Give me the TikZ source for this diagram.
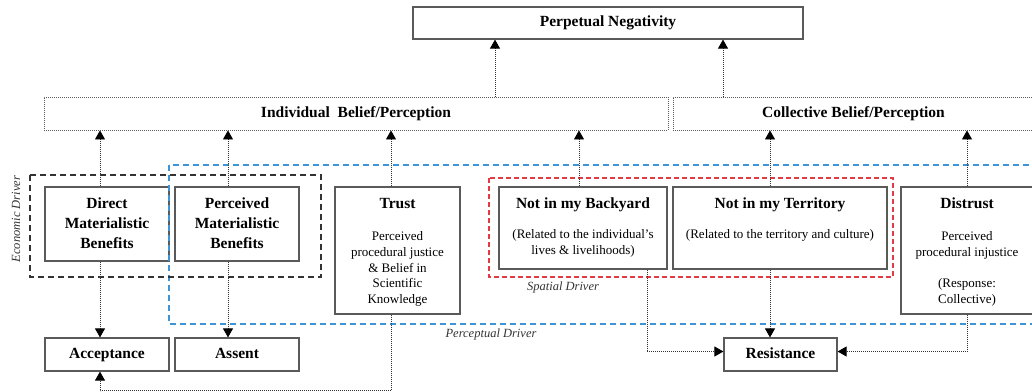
\documentclass[tikz,border=0pt]{standalone}
\usepackage{fontspec}
\setmainfont{Liberation Serif}
\usetikzlibrary{arrows.meta}
\definecolor{bord}{HTML}{5A5A5A}
\definecolor{dblue}{HTML}{3D95D6}
\definecolor{dred}{HTML}{E23B45}
\definecolor{dgray}{HTML}{333333}
\newcommand\TitleFont{\fontsize{15.5}{20}\selectfont\bfseries}
\newcommand\BodyFont{\fontsize{13}{15.7}\selectfont}
\begin{document}
\begin{tikzpicture}[x=1pt,y=-1pt,
 box/.style={draw=bord, line width=1.2pt, inner sep=0pt, font=\TitleFont, text height=10.5pt, text depth=3.5pt},
 dbox/.style={draw=bord, line width=0.9pt, dash pattern=on 1pt off 1pt, inner sep=0pt, font=\TitleFont, text height=10.5pt, text depth=3.5pt},
 ttl/.style={font=\TitleFont, align=center, inner sep=0pt, anchor=base},
 body/.style={font=\BodyFont, align=center, inner sep=0pt, anchor=base},
 conn/.style={draw=dgray, line width=0.8pt, dash pattern=on 1pt off 1pt, -{Triangle[width=10pt,length=9pt,color=black,fill=black]}},
 drv/.style={font=\fontsize{12.5}{15}\selectfont\itshape, text=dgray, inner sep=0pt},
 region/.style={line width=1.3pt, dash pattern=on 6pt off 4pt},
]
\useasboundingbox (0,0) rectangle (1032,391);

% top level
\node[box, minimum width=390pt, minimum height=32pt] (pn) at (608,23) {Perpetual Negativity};
\node[dbox, minimum width=624pt, minimum height=33pt] (indiv) at (356,113.5) {Individual~ Belief/Perception};
\node[dbox, minimum width=361pt, minimum height=33pt] (coll) at (853.5,113.5) {Collective Belief/Perception};

% middle row boxes
\node[box, minimum width=124pt, minimum height=74pt] (direct) at (107,224) {};
\node[box, minimum width=124pt, minimum height=74pt] (perc) at (237,224) {};
\node[box, minimum width=125pt, minimum height=127pt] (trust) at (397.5,250.5) {};
\node[box, minimum width=168pt, minimum height=82pt] (nimby) at (583,228) {};
\node[box, minimum width=214pt, minimum height=82pt] (nimt) at (780,228) {};
\node[box, minimum width=133pt, minimum height=127pt] (distrust) at (967.5,250.5) {};

% bottom row
\node[box, minimum width=124pt, minimum height=33pt] (acc) at (107,354.5) {Acceptance};
\node[box, minimum width=124pt, minimum height=33pt] (assent) at (237,354.5) {Assent};
\node[box, minimum width=113pt, minimum height=33pt] (res) at (780.5,354.5) {Resistance};

% texts (base anchor = baseline of the last line)
\node[ttl] (tdirect) at (107,248) {Direct\\Materialistic\\Benefits};
\node[ttl] (tperc) at (237,248) {Perceived\\Materialistic\\Benefits};
\node[ttl] (ttrust) at (397.5,208) {Trust};
\node[body] (btrust) at (397.5,303.5) {Perceived\\procedural justice\\\& Belief in\\Scientific\\Knowledge};
\node[ttl] (tnimby) at (583,208) {Not in my Backyard};
\node[body] (bnimby) at (583,254.5) {(Related to the individual’s\\lives \& livelihoods)};
\node[ttl] (tnimt) at (780,208) {Not in my Territory};
\node[body] (bnimt) at (780,238.5) {(Related to the territory and culture)};
\node[ttl] (tdistrust) at (967,208) {Distrust};
\node[body] (bdistrust) at (967,303.5) {Perceived\\procedural injustice\\[15.7pt](Response:\\Collective)};

% driver regions
\draw[region, draw=dblue] (169,165) rectangle (1045,324);
\draw[region, draw=dgray] (30,175) rectangle (321,277);
\draw[region, draw=dred, dash pattern=on 5pt off 3pt] (489,178) rectangle (893,277);
\node[drv, rotate=90] (econ) at (16,219) {Economic Driver};
\node[drv] (spat) at (563,287) {Spatial Driver};
\node[drv] (percd) at (491,334) {Perceptual Driver};

% connectors up
\draw[conn] ([xshift=-7pt]direct.north) -- ([xshift=-7pt]direct.north |- indiv.south);
\draw[conn] ([xshift=-9pt]perc.north) -- ([xshift=-9pt]perc.north |- indiv.south);
\draw[conn] ([xshift=-6.5pt]trust.north) -- ([xshift=-6.5pt]trust.north |- indiv.south);
\draw[conn] ([xshift=-4pt]nimby.north) -- ([xshift=-4pt]nimby.north |- indiv.south);
\draw[conn] ([xshift=-10pt]nimt.north) -- ([xshift=-10pt]nimt.north |- coll.south);
\draw[conn] ([xshift=-0.5pt]distrust.north) -- ([xshift=-0.5pt]distrust.north |- coll.south);
\draw[conn] ([xshift=139pt]indiv.north) -- ([xshift=139pt]indiv.north |- pn.south);
\draw[conn] ([xshift=-130.5pt]coll.north) -- ([xshift=-130.5pt]coll.north |- pn.south);

% connectors down
\draw[conn] ([xshift=-7pt]direct.south) -- ([xshift=-7pt]acc.north);
\draw[conn] ([xshift=-9pt]perc.south) -- ([xshift=-9pt]assent.north);
\draw[conn] ([xshift=-10pt]nimt.south) -- ([xshift=-10pt]nimt.south |- res.north);
\draw[conn] ([xshift=-6.5pt]trust.south) |- ([xshift=-7pt,yshift=-19pt]acc.south) -- ([xshift=-7pt]acc.south);
\draw[conn] ([xshift=64pt]nimby.south) |- ([yshift=3pt]res.west);
\draw[conn] ([xshift=-0.5pt]distrust.south) |- ([yshift=3pt]res.east);
\end{tikzpicture}
\end{document}
